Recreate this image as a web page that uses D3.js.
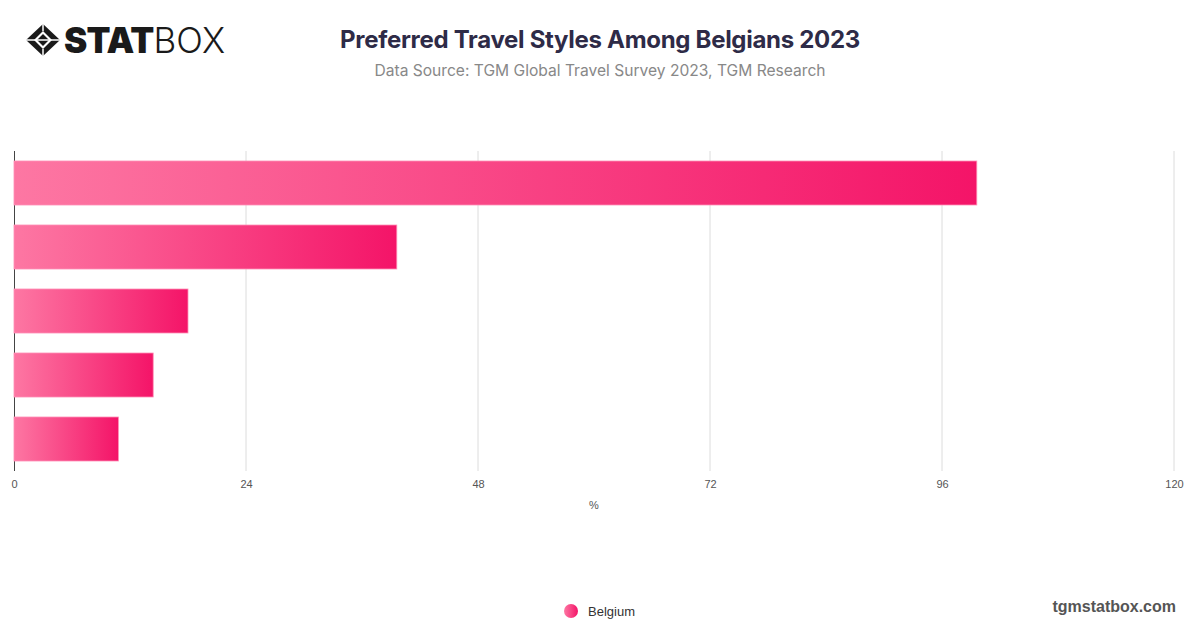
<!DOCTYPE html>
<html><head><meta charset="utf-8">
<script src="https://cdn.jsdelivr.net/npm/d3@7"></script>
<style>body{margin:0;background:#fff;font-family:Inter,"Noto Sans",sans-serif}</style>
</head><body><svg id="c" width="1200" height="628"></svg>
<script>
const categories = ["Leisure travel","Business travel","Adventure travel","Backpacking","Luxury travel"];
const values = [99.6, 39.6, 18.0, 14.4, 10.8];
const xTicks = [0, 24, 48, 72, 96, 120];
const seriesName = "Belgium";

(function(){
const svg = d3.select("#c");
const defs = svg.append("defs");
const g = defs.append("linearGradient").attr("id","bg").attr("x1","0").attr("x2","1").attr("y1","0").attr("y2","0");
g.append("stop").attr("offset","0%").attr("stop-color","#fd77a3");
g.append("stop").attr("offset","100%").attr("stop-color","#f41468");
const helv = "'Liberation Sans',Arial,sans-serif";

const pL = 14, pR = 1174, pT = 151, pB = 471;
const x = d3.scaleLinear().domain([0,120]).range([pL,pR]);
const y = d3.scaleBand().domain(categories).range([pT,pB]).paddingInner(0.3125).paddingOuter(0.15625);

// grid
svg.append("g").selectAll("line").data(xTicks.slice(1)).join("line")
  .attr("x1",d=>x(d)).attr("x2",d=>x(d)).attr("y1",pT).attr("y2",pB)
  .attr("stroke","#dcdcdc").attr("stroke-width",1);

// axis x
const ax = svg.append("g").attr("transform",`translate(0,${pB})`)
  .call(d3.axisBottom(x).tickValues(xTicks).tickSize(0).tickPadding(9));
ax.select(".domain").remove();
ax.selectAll("text").attr("font-family",helv).attr("font-size",11).attr("fill","#555");

// y axis line
svg.append("line").attr("x1",pL+0.5).attr("x2",pL+0.5).attr("y1",pT).attr("y2",pB)
  .attr("stroke","#444").attr("stroke-width",1);

// bars
svg.append("g").selectAll("rect").data(values).join("rect")
  .attr("x",x(0)).attr("y",(d,i)=>y(categories[i]))
  .attr("width",d=>x(d)-x(0)).attr("height",y.bandwidth())
  .attr("fill","url(#bg)").attr("stroke","#ff8fb6").attr("stroke-width",0.8);

// axis title
svg.append("text").attr("x",594).attr("y",509).attr("text-anchor","middle").attr("font-family",helv)
  .attr("font-size",11).attr("fill","#555").text("%");

// title
svg.append("text").attr("x",600).attr("y",48).attr("text-anchor","middle")
  .attr("font-size",24).attr("font-weight",700).attr("fill","#2e2b47").attr("letter-spacing","-0.3")
  .text("Preferred Travel Styles Among Belgians 2023");
svg.append("text").attr("x",600).attr("y",76).attr("text-anchor","middle")
  .attr("font-size",15.6).attr("fill","#888").text("Data Source: TGM Global Travel Survey 2023, TGM Research");

// logo
const lg = svg.append("g").attr("transform","translate(43,40)");
lg.append("path").attr("d","M0,-16 L17,0 L0,16 L-17,0 Z").attr("fill","#1a1a1a");
lg.append("path").attr("d","M0,-9 L9,0 L0,9 L-9,0 Z").attr("fill","#fff");
lg.append("path").attr("d","M0,-6 L6,0 L0,6 L-6,0 Z").attr("fill","#1a1a1a");
lg.append("path").attr("d","M-17,0 L17,0").attr("stroke","#fff").attr("stroke-width",1.5);
lg.append("path").attr("d","M0,-16 L0,-9 M0,9 L0,16").attr("stroke","#fff").attr("stroke-width",1.5);
const lt = svg.append("text").attr("x",64).attr("y",53).attr("font-size",35).attr("fill","#1a1a1a").attr("font-family","Inter,sans-serif");
lt.append("tspan").attr("font-weight",900).attr("letter-spacing","-0.8").text("STAT");
lt.append("tspan").attr("font-weight",300).text("BOX");

// legend
defs.append("linearGradient").attr("id","lgd").attr("x1","0").attr("x2","1")
  .call(s=>{s.append("stop").attr("offset","0%").attr("stop-color","#fd77a3");s.append("stop").attr("offset","100%").attr("stop-color","#f41468");});
svg.append("circle").attr("cx",571).attr("cy",611).attr("r",7).attr("fill","url(#lgd)");
svg.append("text").attr("x",588).attr("y",616).attr("font-family",helv).attr("font-size",13).attr("fill","#333").text(seriesName);

svg.append("text").attr("x",1176).attr("y",612).attr("text-anchor","end").attr("font-family",helv)
  .attr("font-size",16).attr("font-weight",700).attr("fill","#555").text("tgmstatbox.com");
})();
</script></body></html>
